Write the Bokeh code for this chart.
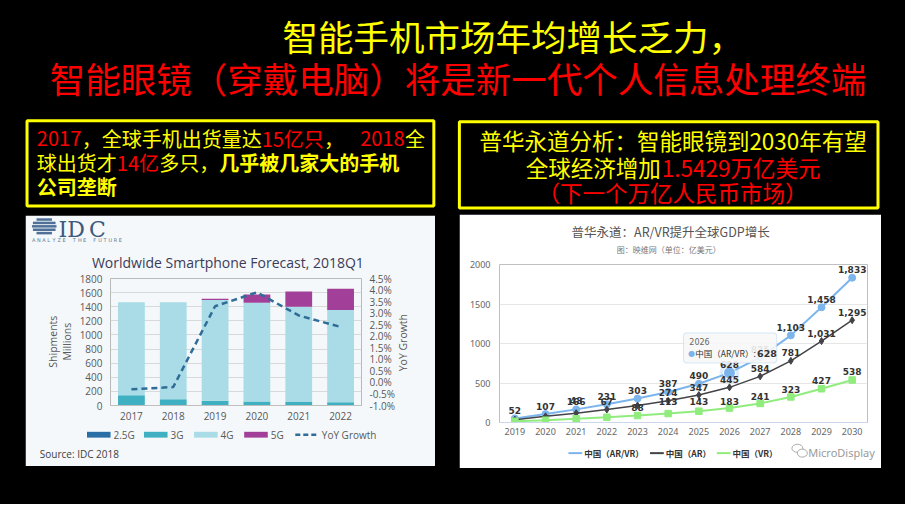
import math
from bokeh.plotting import figure
from bokeh.models import (Range1d, LinearAxis, BoxAnnotation, ColumnDataSource,
                          PrintfTickFormatter, FixedTicker, SingleIntervalTicker, Spacer)
from bokeh.layouts import row, column
from bokeh.embed import file_html
from bokeh.resources import INLINE
from bokeh.core.properties import value

# ---------------- data ----------------
idc_years = ["2017", "2018", "2019", "2020", "2021", "2022"]
idc_series = ["2.5G", "3G", "4G", "5G"]
g25 = [4, 2, 1, 1, 0, 0]
g3 = [140, 88, 66, 57, 49, 45]
g4 = [1321, 1375, 1428, 1400, 1349, 1309]
g5 = [0, 0, 18, 114, 219, 300]
yoy = [-0.3, -0.2, 3.3, 3.9, 2.9, 2.4]          # percent
yoy_name = "YoY Growth"

gdp_years = ["2019", "2020", "2021", "2022", "2023", "2024",
             "2025", "2026", "2027", "2028", "2029", "2030"]
gdp_series = ["中国（AR/VR）", "中国（AR）", "中国（VR）"]
arvr = [52, 107, 166, 231, 303, 387, 490, 628, 825, 1103, 1458, 1833]
ar = [36, 78, 118, 164, 215, 274, 347, 445, 584, 781, 1031, 1295]
vr = [16, 29, 48, 67, 88, 113, 143, 183, 241, 323, 427, 538]
vr_label_lift = [8, 8, 18, 16, 8, 12, 10, 7, 7, 7, 8, 8]   # px, label placement
hover_index = 7

title1 = "智能手机市场年均增长乏力，"
title2 = "智能眼镜（穿戴电脑）将是新一代个人信息处理终端"

CJK = "Noto Sans CJK SC"
YEL = "#ffff00"
RED = "#ff0000"

W, H = 905, 504
SX, SY = W / 921, H / 520          # reference layout -> page layout

# ---------------- top (slide text) ----------------
HT = round(218 * SY)
tp = figure(width=W, height=HT, x_range=Range1d(0, 921), y_range=Range1d(HT / SY, 0),
            output_backend="svg", toolbar_location=None, min_border=0,
            x_axis_location=None, y_axis_location=None,
            background_fill_color="black", border_fill_color="black",
            outline_line_color=None)
tp.grid.visible = False


def slide_text(x, y, t, color, size, bold=False, align="left"):
    tp.text(x=[x], y=[y], text=[t], text_color=color, text_font=value(CJK),
            text_font_size=f"{size}px", text_font_style="bold" if bold else "normal",
            text_align=align, text_baseline="middle")


def seg_width(t, size):
    w = 0.0
    for ch in t:
        w += size * (0.56 if ch.isascii() else 1.0)
    return w / SX


def chain(y, x0, segs, size):
    x = x0
    for t, c, b, minx in segs:
        x = max(x, minx)
        slide_text(x, y, t, c, size, b)
        x += seg_width(t, size)


slide_text(287, 36, title1, YEL, 35.5)
slide_text(50, 79, title2, RED, 35.5)

tp.quad(left=[27], right=[441], top=[124], bottom=[212], fill_color=None,
        line_color=YEL, line_width=3)
tp.quad(left=[467], right=[893], top=[125], bottom=[214], fill_color=None,
        line_color=YEL, line_width=3)

FS_L = 20
chain(142, 37, [("2017", RED, False, 0), ("，全球手机出货量达", YEL, False, 0),
                ("15亿只", RED, False, 0), ("，", YEL, False, 0),
                ("2018", RED, False, 366), ("全", YEL, False, 0)], FS_L)
chain(167, 37, [("球出货才", YEL, False, 0), ("14亿", RED, False, 0),
                ("多只，", YEL, False, 0), ("几乎被几家大的手机", YEL, True, 0)], FS_L)
chain(192, 37, [("公司垄断", YEL, True, 0)], FS_L)

FS_R = 22.5
slide_text(684.5, 144, "普华永道分析：智能眼镜到2030年有望", YEL, FS_R, align="center")
slide_text(672, 172, "全球经济增加", YEL, FS_R, align="right")
slide_text(673, 172, "1.5429万亿美元", RED, FS_R, align="left")
slide_text(684, 198, "（下一个万亿人民币市场）", RED, FS_R, align="center")


# ---------------- geometry helpers ----------------
def geom(x0, y0, x1, y1, fl, fr, ft, fb):
    g = dict(left=round(x0 * SX), right=round(x1 * SX), top=round(y0 * SY), bottom=round(y1 * SY),
             fl=round(fl * SX), fr=round(fr * SX), ft=round(ft * SY), fb=round(fb * SY))
    g["w"] = g["right"] - g["left"]
    g["h"] = g["bottom"] - g["top"]
    g["mbl"] = g["fl"] - g["left"]
    g["mbr"] = g["right"] - g["fr"]
    g["mbt"] = g["ft"] - g["top"]
    g["mbb"] = g["bottom"] - g["fb"]
    g["fw"] = g["fr"] - g["fl"]
    g["fh"] = g["fb"] - g["ft"]
    return g


def fx(g, rx):
    return rx * SX - g["fl"]


def fy(g, ry):
    return g["fb"] - ry * SY


OV = dict(x_range_name="px", y_range_name="py", level="overlay")


def otext(p, g, rx, ry, t, size, color, font, angle=0.0, align="left", bold=False):
    p.text(x=[fx(g, rx)], y=[fy(g, ry)], text=[t], angle=angle, text_font_size=f"{size}px",
           text_color=color, text_font=value(font), text_font_style="bold" if bold else "normal",
           text_align=align, text_baseline="middle", **OV)


def year_axis(ax, labels):
    ax.ticker = FixedTicker(ticks=list(range(len(labels))))
    ax.major_label_overrides = {i: s for i, s in enumerate(labels)}


# ---------------- left chart: IDC ----------------
GL = geom(25, 222, 443, 481, 112, 367, 287, 418)
PANEL = "#f4f8fa"
IDC_COLORS = ["#2a6ea6", "#3eb0c1", "#a9dce6", "#a23f99"]
YOY_COLOR = "#2f6d98"
src = ColumnDataSource(dict(xi=list(range(len(idc_years))), year=idc_years, yoy=yoy,
                            **{"2.5G": g25, "3G": g3, "4G": g4, "5G": g5}))
lf = figure(width=GL["w"], height=GL["h"], x_range=Range1d(-0.5, len(idc_years) - 0.5),
            y_range=Range1d(0, 1800),
            output_backend="svg", toolbar_location=None,
            min_border_left=GL["mbl"], min_border_right=GL["mbr"],
            min_border_top=GL["mbt"], min_border_bottom=GL["mbb"],
            background_fill_color=PANEL, border_fill_color=PANEL, outline_line_color=None)
lf.extra_y_ranges = {"yoy": Range1d(-1.0, 4.5), "py": Range1d(0, GL["fh"])}
lf.extra_x_ranges = {"px": Range1d(0, GL["fw"])}
bars = lf.vbar_stack(idc_series, x="xi", width=0.64, source=src, line_color=None, color=IDC_COLORS)
yl = lf.line(x="xi", y="yoy", y_range_name="yoy", source=src, line_color=YOY_COLOR,
             line_width=2.5, line_dash="6 4")

year_axis(lf.xaxis[0], idc_years)
lf.yaxis.ticker = SingleIntervalTicker(interval=200, num_minor_ticks=0)
rax = LinearAxis(y_range_name="yoy", ticker=SingleIntervalTicker(interval=0.5, num_minor_ticks=0),
                 formatter=PrintfTickFormatter(format="%.1f%%"))
lf.add_layout(rax, "right")
for ax in (lf.yaxis[0], rax):
    ax.axis_line_color = None
    ax.major_tick_line_color = None
    ax.minor_tick_line_color = None
    ax.major_tick_out = 0
    ax.major_label_text_font_size = "10px"
    ax.major_label_text_color = "#595959"
    ax.major_label_text_font = "Open Sans"
    ax.major_label_standoff = 8
lf.xaxis.axis_line_color = "#bfbfbf"
lf.xaxis.major_tick_line_color = None
lf.xaxis.minor_tick_line_color = None
lf.xaxis.major_tick_out = 0
lf.xaxis.major_label_text_font_size = "10px"
lf.xaxis.major_label_text_color = "#595959"
lf.xaxis.major_label_text_font = "Open Sans"
lf.xaxis.major_label_standoff = 6
lf.xgrid.visible = False
lf.ygrid.grid_line_color = "#d9d9d9"

# legend (drawn outside the frame, unclipped)
LEG_X = [88, 146, 197, 248]
LEG_Y = 448
lf.quad(left=[fx(GL, x) for x in LEG_X], right=[fx(GL, x + 24) for x in LEG_X],
        top=[fy(GL, LEG_Y - 3)] * 4, bottom=[fy(GL, LEG_Y + 3)] * 4,
        fill_color=IDC_COLORS, line_color=None, **OV)
for name, x in zip(idc_series, LEG_X):
    otext(lf, GL, x + 27, LEG_Y, name, 10, "#595959", "Open Sans")
lf.segment(x0=[fx(GL, 300)], y0=[fy(GL, LEG_Y)], x1=[fx(GL, 323)], y1=[fy(GL, LEG_Y)],
           line_color=YOY_COLOR, line_width=2.5, line_dash="5 3", **OV)
otext(lf, GL, 327, LEG_Y, yoy_name, 10, "#595959", "Open Sans")

otext(lf, GL, 93, 270, "Worldwide Smartphone Forecast, 2018Q1", 14, "#3b3b58", "Open Sans")
otext(lf, GL, 53, 352, "Shipments", 10.5, "#595959", "Open Sans", angle=math.pi / 2, align="center")
otext(lf, GL, 68, 352, "Millions", 10.5, "#595959", "Open Sans", angle=math.pi / 2, align="center")
otext(lf, GL, 410, 353, "YoY Growth", 10.5, "#595959", "Open Sans", angle=math.pi / 2, align="center")
otext(lf, GL, 40, 468, "Source: IDC 2018", 10, "#404040", "Open Sans")
# IDC logo
for ch, x in (("I", 59), ("D", 68), ("C", 90)):
    otext(lf, GL, x, 236, ch, 22, "#3d5a7c", "DejaVu Serif")
for k, ch in enumerate("ANALYZE THE FUTURE"):
    if ch != " ":
        otext(lf, GL, 32 + 5.2 * k, 247, ch, 5, "#5b7892", "DejaVu Sans")
sl, sr, st, sb = [], [], [], []
for k in range(5):
    yc = 226 + 3.5 * k
    w = 25 * math.sqrt(max(0.0, 1 - ((yc - 233) / 9.0) ** 2))
    sl.append(fx(GL, 44.5 - w / 2)); sr.append(fx(GL, 44.5 + w / 2))
    st.append(fy(GL, yc - 1.3)); sb.append(fy(GL, yc + 1.3))
lf.quad(left=sl, right=sr, top=st, bottom=sb, fill_color="#4f7198", line_color=None, **OV)

# ---------------- right chart: PwC ----------------
GR = geom(467, 221, 897, 483, 508, 882, 272, 435)
fmt = lambda v: f"{v:,}"
gsrc = ColumnDataSource(dict(
    xi=list(range(len(gdp_years))), year=gdp_years, arvr=arvr, ar=ar, vr=vr,
    arvr_lbl=[fmt(v) for v in arvr],
    ar_lbl=[fmt(v) if i >= 5 else "" for i, v in enumerate(ar)],
    vr_lbl=[fmt(v) if i >= 2 else "" for i, v in enumerate(vr)],
    vr_dy=[-d for d in vr_label_lift]))
rf = figure(width=GR["w"], height=GR["h"], x_range=Range1d(-0.5, len(gdp_years) - 0.5),
            y_range=Range1d(0, 2000),
            output_backend="svg", toolbar_location=None,
            min_border_left=GR["mbl"], min_border_right=GR["mbr"],
            min_border_top=GR["mbt"], min_border_bottom=GR["mbb"],
            background_fill_color="white", border_fill_color="white", outline_line_color=None)
rf.extra_x_ranges = {"px": Range1d(0, GR["fw"])}
rf.extra_y_ranges = {"py": Range1d(0, GR["fh"])}
year_axis(rf.xaxis[0], gdp_years)
rf.yaxis.ticker = SingleIntervalTicker(interval=500, num_minor_ticks=0)
rf.yaxis.axis_line_color = None
rf.yaxis.major_tick_line_color = None
rf.yaxis.minor_tick_line_color = None
rf.yaxis.major_tick_out = 0
rf.yaxis.major_label_standoff = 9
rf.xaxis.axis_line_color = "#ccd6eb"
rf.xaxis.major_tick_line_color = None
rf.xaxis.minor_tick_line_color = None
rf.xaxis.major_tick_out = 0
rf.xaxis.major_label_standoff = 5
for ax in (rf.xaxis[0], rf.yaxis[0]):
    ax.major_label_text_font_size = "9px"
    ax.major_label_text_color = "#666666"
    ax.major_label_text_font = "Noto Sans"
rf.xgrid.visible = False
rf.ygrid.grid_line_color = "#e6e6e6"

GCOL = ["#7cb5ec", "#434348", "#90ed7d"]
GMARK = ["circle", "diamond", "square"]
GSIZE = [7, 7, 6.5]
GLW = [2, 1.5, 2]
for key, c, mk, sz, lw in zip(["arvr", "ar", "vr"], GCOL, GMARK, GSIZE, GLW):
    rf.line("xi", key, source=gsrc, line_color=c, line_width=lw)
    rf.scatter("xi", key, source=gsrc, marker=mk, size=sz, color=c)
C1 = GCOL[0]
rf.scatter([hover_index], [arvr[hover_index]], size=20, color=C1, alpha=0.25, line_color=None)
rf.scatter([hover_index], [arvr[hover_index]], size=12, color=C1, line_color="white", line_width=1)

lblkw = dict(source=gsrc, text_align="center", text_baseline="middle", text_font_size="9px",
             text_font_style="bold", text_color="#333333", text_font=value("DejaVu Sans"))
rf.text("xi", "vr", text="vr_lbl", y_offset="vr_dy", **lblkw)
rf.text("xi", "ar", text="ar_lbl", y_offset=-8, **lblkw)
rf.text("xi", "arvr", text="arvr_lbl", y_offset=-8, **lblkw)

otext(rf, GR, 682, 238, "普华永道：AR/VR提升全球GDP增长", 12.5, "#555555", CJK, align="center")
otext(rf, GR, 680, 257, "图：映维网（单位：亿美元）", 8, "#777777", CJK, align="center")

# legend (outside the frame)
RLEG_X = [578, 661, 729]
RLEG_Y = 467
rf.segment(x0=[fx(GR, x) for x in RLEG_X], y0=[fy(GR, RLEG_Y)] * 3,
           x1=[fx(GR, x + 14) for x in RLEG_X], y1=[fy(GR, RLEG_Y)] * 3,
           line_color=GCOL, line_width=2, **OV)
rf.scatter(x=[fx(GR, x + 7) for x in RLEG_X], y=[fy(GR, RLEG_Y)] * 3, marker=GMARK,
           size=GSIZE, color=GCOL, **OV)
for name, x in zip(gdp_series, RLEG_X):
    otext(rf, GR, x + 16, RLEG_Y, name, 8.5, "#333333", CJK, bold=True)

# tooltip (hover state as photographed)
rf.add_layout(BoxAnnotation(left=fx(GR, 695), right=fx(GR, 790), top=fy(GR, 343), bottom=fy(GR, 374),
                            left_units="screen", right_units="screen",
                            top_units="screen", bottom_units="screen",
                            fill_color="#f7f7f7", fill_alpha=0.9, line_color=C1, line_width=1,
                            border_radius=3))
otext(rf, GR, 701, 352, gdp_years[hover_index], 8, "#666666", "DejaVu Sans")
otext(rf, GR, 700, 364, "●", 8, C1, "DejaVu Sans")
otext(rf, GR, 707, 364, gdp_series[0] + ":", 8.5, "#333333", CJK)
otext(rf, GR, 770, 364, str(arvr[hover_index]), 9.5, "#333333", "DejaVu Sans", bold=True)

# watermark
rf.ellipse(x=[fx(GR, 811), fx(GR, 816)], y=[fy(GR, 462), fy(GR, 467)], width=[11, 10], height=[8, 8],
           fill_color="white", line_color="#aaaaaa", line_width=1, **OV)
otext(rf, GR, 822, 466, "MicroDisplay", 11, "#9a9a9a", "Noto Sans")

# ---------------- layout ----------------
BLACK = {"background-color": "black"}
left_col = column(Spacer(width=GL["w"], height=GL["top"] - HT), lf)
right_col = column(Spacer(width=GR["w"], height=GR["top"] - HT), rf)
bottom = row(Spacer(width=GL["left"], height=H - HT), left_col,
             Spacer(width=GR["left"] - GL["right"], height=H - HT), right_col,
             styles=BLACK, width=W, height=H - HT)
page = column(tp, bottom, styles=BLACK, width=W, height=H)

open("out.html", "w").write(file_html(page, INLINE, "chart"))
